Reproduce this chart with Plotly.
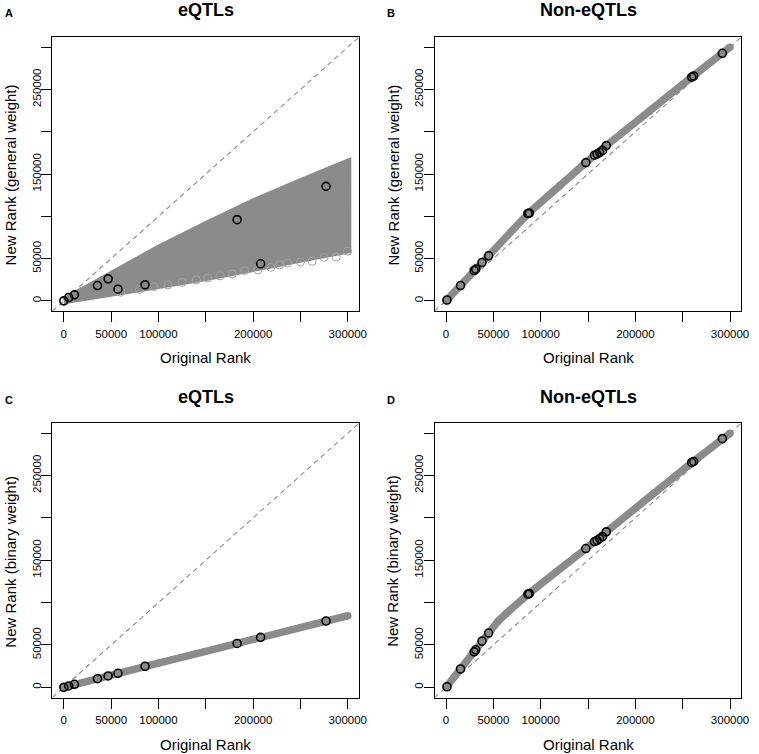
import plotly.graph_objects as go

W, H = 759, 754

# ---------------- data ----------------
# eQTL original ranks (shared by panels A and C)
eqtl_orig = [0, 5200, 11200, 35600, 46800, 57200, 85800, 183100, 207900, 277000]
eqtl_new_general = [0, 3900, 7100, 18100, 26000, 13800, 18900, 96000, 43800, 135400]
eqtl_new_binary = [0, 1600, 3600, 10200, 13400, 16600, 24900, 51800, 59000, 78300]

# non-eQTL original ranks (shared by panels B and D)
non_orig = [1000, 15300, 29700, 31400, 38000, 45000, 86500, 88000, 147700, 156800,
            159500, 162300, 165300, 169300, 259500, 261600, 291900]
non_new_general = [1000, 18100, 35900, 37500, 45400, 53300, 103300, 103700, 163500, 172200,
                   173600, 175400, 177900, 183600, 264600, 265800, 292700]
non_new_binary = [700, 21700, 41900, 44300, 54600, 64100, 110000, 110600, 163800, 172100,
                  173300, 175400, 177900, 183500, 265400, 266600, 293500]

# panel A: cloud of all loci (upper / lower envelope)
cloud_x = [0, 50000, 100000, 150000, 200000, 250000, 300000]
cloud_upper = [0, 32000, 62000, 90000, 117000, 141000, 164000]
cloud_lower = [0, 9000, 18000, 27500, 38000, 48500, 60000]
# open grey circles poking out of the lower envelope in panel A
edge_x = [60000, 80000, 95000, 110000, 125000, 140000, 152000, 165000, 178000, 191000,
          205000, 218700, 228000, 236200, 250100, 262300, 275000, 287800, 299700]
edge_y = [10200, 13500, 16800, 18800, 21800, 24800, 27000, 29500, 31800, 35800,
          36500, 39600, 42500, 44700, 45900, 46800, 51500, 51800, 58800]

# panel B: general weight curve for all non-eQTLs
bandB_x = [0, 45000, 87300, 120000, 147700, 169300, 215000, 260000, 300000]
bandB_y = [0, 53300, 103500, 136000, 163500, 183600, 224500, 265000, 300000]
# panel C: binary weight line for all eQTLs
bandC_x = [0, 100000, 200000, 300000]
bandC_y = [0, 28500, 56500, 84500]
# panel D: binary weight line for all non-eQTLs
bandD_x = [0, 45000, 55000, 63000, 87300, 147700, 169300, 260000, 300000]
bandD_y = [0, 64000, 78000, 86500, 110300, 163800, 183500, 265400, 300000]

titles = ["eQTLs", "Non-eQTLs", "eQTLs", "Non-eQTLs"]
letters = ["A", "B", "C", "D"]
ylabels = ["New Rank (general weight)", "New Rank (general weight)",
           "New Rank (binary weight)", "New Rank (binary weight)"]
xlabel = "Original Rank"

tick_vals = [0, 50000, 100000, 150000, 200000, 250000, 300000]
x_tick_text = ["0", "50000", "100000", "", "200000", "", "300000"]
y_tick_text = ["0", "50000", "", "150000", "", "250000", ""]
axis_range = [-12000, 312000]

# ---------------- style ----------------
GREY = "#8b8b8b"
FONT = "Liberation Sans, Arial, Helvetica, sans-serif"

# panel boxes in pixels (left, right, top, bottom)
boxes = [(53, 363, 37, 311), (439.3, 749.3, 37, 311),
         (53, 363, 423, 697.5), (439.3, 749.3, 423, 697.5)]

fig = go.Figure()

def dom(b):
    l, r, t, btm = b
    return [l / W, r / W], [1 - btm / H, 1 - t / H]

def open_circles(x, y, xa, ya):
    return go.Scatter(x=x, y=y, xaxis=xa, yaxis=ya, mode="markers",
                      marker=dict(symbol="circle-open", size=8, color="black",
                                  line=dict(width=1.6, color="black")),
                      hoverinfo="x+y", showlegend=False)

def band(x, y, xa, ya):
    return go.Scatter(x=x, y=y, xaxis=xa, yaxis=ya, mode="lines+markers",
                      line=dict(color=GREY, width=7.5, shape="spline", smoothing=0.6),
                      marker=dict(size=7.5, color=GREY, line=dict(width=0)),
                      hoverinfo="skip", showlegend=False)

# Panel A
fig.add_trace(go.Scatter(x=cloud_x + cloud_x[::-1], y=cloud_upper + cloud_lower[::-1],
                         xaxis="x", yaxis="y", mode="lines", fill="toself",
                         fillcolor=GREY, line=dict(color=GREY, width=7),
                         hoverinfo="skip", showlegend=False))
fig.add_trace(go.Scatter(x=edge_x, y=edge_y, xaxis="x", yaxis="y", mode="markers",
                         marker=dict(symbol="circle-open", size=8, color="#a3a3a3",
                                     line=dict(width=1, color="#a3a3a3")),
                         hoverinfo="skip", showlegend=False))
fig.add_trace(open_circles(eqtl_orig, eqtl_new_general, "x", "y"))
# Panel B
fig.add_trace(band(bandB_x, bandB_y, "x2", "y2"))
fig.add_trace(open_circles(non_orig, non_new_general, "x2", "y2"))
# Panel C
fig.add_trace(band(bandC_x, bandC_y, "x3", "y3"))
fig.add_trace(open_circles(eqtl_orig, eqtl_new_binary, "x3", "y3"))
# Panel D
fig.add_trace(band(bandD_x, bandD_y, "x4", "y4"))
fig.add_trace(open_circles(non_orig, non_new_binary, "x4", "y4"))

layout = dict(width=W, height=H, margin=dict(l=0, r=0, t=0, b=0),
              paper_bgcolor="white", plot_bgcolor="white",
              font=dict(family=FONT, color="black"), showlegend=False)

annotations = []
shapes = []
for i, b in enumerate(boxes):
    xd, yd = dom(b)
    sx = "" if i == 0 else str(i + 1)
    common = dict(range=axis_range, showgrid=False, zeroline=False, showline=True,
                  mirror=True, linecolor="black", linewidth=1.2, ticks="outside",
                  ticklen=10, tickwidth=1, tickcolor="black", tickvals=tick_vals,
                  tickfont=dict(size=11.5, family=FONT, color="black"))
    layout["xaxis" + sx] = dict(domain=xd, anchor="y" + sx, ticktext=x_tick_text,
                                tickangle=0, ticklabelstandoff=2, **common)
    layout["yaxis" + sx] = dict(domain=yd, anchor="x" + sx, ticktext=y_tick_text,
                                tickangle=-90, ticklabelstandoff=-4, **common)
    l, r, t, btm = b
    cx = (l + r) / 2
    cy = (t + btm) / 2
    # title
    annotations.append(dict(text="<b>%s</b>" % titles[i], x=cx / W, y=1 - (t - 26.5) / H,
                            xref="paper", yref="paper", showarrow=False,
                            xanchor="center", yanchor="middle",
                            font=dict(size=18, family=FONT)))
    # letter
    annotations.append(dict(text="<b>%s</b>" % letters[i], x=(l - 50) / W,
                            y=1 - (t - 23.5) / H, xref="paper", yref="paper",
                            showarrow=False, xanchor="left", yanchor="middle",
                            font=dict(size=11, family=FONT)))
    # x label
    annotations.append(dict(text=xlabel, x=cx / W, y=1 - (btm + 46.5) / H,
                            xref="paper", yref="paper", showarrow=False,
                            xanchor="center", yanchor="middle",
                            font=dict(size=15, family=FONT)))
    # y label
    annotations.append(dict(text=ylabels[i], x=(l - 42.5) / W, y=1 - (cy + 1) / H,
                            xref="paper", yref="paper", showarrow=False,
                            xanchor="center", yanchor="middle", textangle=-90,
                            font=dict(size=15, family=FONT)))
    # identity (y = x) reference line across the axis range
    shapes.append(dict(type="line", xref="x" + sx, yref="y" + sx,
                       x0=axis_range[0], y0=axis_range[0],
                       x1=axis_range[1], y1=axis_range[1],
                       line=dict(color="#8a8a8a", width=1.1, dash="5px,4px"),
                       layer="below"))

layout["annotations"] = annotations
layout["shapes"] = shapes
fig.update_layout(**layout)

fig.write_html("out.html", config={"displayModeBar": False},
               post_script="document.body.style.margin='0';document.body.style.overflow='hidden';")
